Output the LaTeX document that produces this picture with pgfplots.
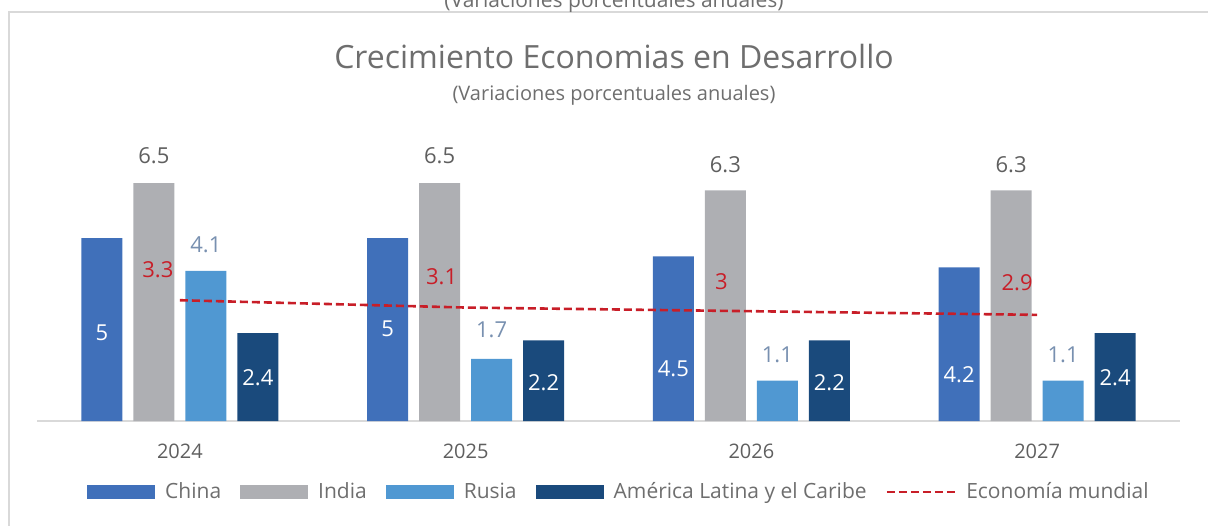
\documentclass[border=0pt]{standalone}
\usepackage{pgfplots}
\pgfplotsset{compat=1.18}
\usepackage{fontspec}
\setmainfont{Open Sans}
\definecolor{cChina}{RGB}{64,112,186}
\definecolor{cIndia}{RGB}{174,175,179}
\definecolor{cRusia}{RGB}{80,152,210}
\definecolor{cALC}{RGB}{26,74,124}
\definecolor{cRed}{RGB}{200,30,40}
\definecolor{cText}{RGB}{110,110,110}
\definecolor{cDark}{RGB}{95,95,95}
\definecolor{cRusLab}{RGB}{120,144,176}
\definecolor{cFrame}{RGB}{217,217,217}
\begin{document}
\begin{tikzpicture}[x=0.5pt,y=0.5pt]
\useasboundingbox (0,0) rectangle (1208,525);
\draw[cFrame, line width=1pt] (9,-20) rectangle (1230,513);
\node[font=\fontsize{10.5pt}{12pt}\selectfont, text=cText, anchor=base] at (614,517) {(Variaciones porcentuales anuales)};
\node[font=\fontsize{16pt}{19pt}\selectfont, text=cText] at (614,468) {Crecimiento Economias en Desarrollo};
\node[font=\fontsize{10pt}{12pt}\selectfont, text=cText] at (614,430) {(Variaciones porcentuales anuales)};
\begin{axis}[
  at={(18.5pt,52pt)}, anchor=south west,
  scale only axis, width=571.5pt, height=146.4pt,
  xmin=-0.5, xmax=3.5, ymin=0, ymax=8,
  axis x line*=bottom, axis y line=none,
  x axis line style={draw=cFrame, line width=1pt, -},
  xtick={0,1,2,3}, xticklabels={2024,2025,2026,2027},
  major tick length=0pt,
  xticklabel style={font=\fontsize{10pt}{12pt}\selectfont, text=cDark, yshift=-8pt},
  ytick=\empty,
  clip=false,
  legend columns=5,
  legend style={draw=none, fill=none, at={(0.51,-0.2425)}, anchor=center,
    font=\fontsize{10.5pt}{12pt}\selectfont, text=cText,
    /tikz/every odd column/.append style={column sep=3pt},
    /tikz/every even column/.append style={column sep=7.5pt},
    inner xsep=0pt},
]
\addplot[ybar, bar width=20.5pt, bar shift=-39pt, fill=cChina, draw=none,
  legend image code/.code={\fill[cChina] (0pt,-3.5pt) rectangle (34pt,3.5pt);}]
  coordinates {(0,5) (1,5) (2,4.5) (3,4.2)};
\addlegendentry{China}
\addplot[ybar, bar width=20.5pt, bar shift=-13pt, fill=cIndia, draw=none,
  legend image code/.code={\fill[cIndia] (0pt,-3.5pt) rectangle (34pt,3.5pt);}]
  coordinates {(0,6.5) (1,6.5) (2,6.3) (3,6.3)};
\addlegendentry{India}
\addplot[ybar, bar width=20.5pt, bar shift=13pt, fill=cRusia, draw=none,
  legend image code/.code={\fill[cRusia] (0pt,-3.5pt) rectangle (34pt,3.5pt);}]
  coordinates {(0,4.1) (1,1.7) (2,1.1) (3,1.1)};
\addlegendentry{Rusia}
\addplot[ybar, bar width=20.5pt, bar shift=39pt, fill=cALC, draw=none,
  legend image code/.code={\fill[cALC] (0pt,-3.5pt) rectangle (34pt,3.5pt);}]
  coordinates {(0,2.4) (1,2.2) (2,2.2) (3,2.4)};
\addlegendentry{América Latina y el Caribe}
\addplot[cRed, line width=1.3pt, dash pattern=on 4pt off 2pt, mark=none,
  legend image code/.code={\draw[cRed, line width=1.3pt, dash pattern=on 4pt off 2pt] (0pt,0pt) -- (34pt,0pt);}]
  coordinates {(0,3.3) (1,3.1) (2,3.0) (3,2.9)};
\addlegendentry{Economía mundial}
% labels
\addplot[draw=none, mark=none, forget plot, nodes near coords, point meta=explicit symbolic,
  nodes near coords align={center},
  every node near coord/.append style={font=\fontsize{11pt}{13pt}\selectfont, text=white, anchor=center, inner sep=0pt}]
  coordinates {(-0.273,2.40) [5] (0.727,2.51) [5] (1.727,1.42) [4.5] (2.727,1.26) [4.2]
               (0.273,1.17) [2.4] (1.273,1.04) [2.2] (2.273,1.04) [2.2] (3.273,1.17) [2.4]};
\addplot[draw=none, mark=none, forget plot, nodes near coords, point meta=explicit symbolic,
  nodes near coords align={center},
  every node near coord/.append style={font=\fontsize{11pt}{13pt}\selectfont, text=cDark, anchor=center, inner sep=0pt}]
  coordinates {(-0.091,7.24) [6.5] (0.909,7.24) [6.5] (1.909,6.99) [6.3] (2.909,6.99) [6.3]};
\addplot[draw=none, mark=none, forget plot, nodes near coords, point meta=explicit symbolic,
  nodes near coords align={center},
  every node near coord/.append style={font=\fontsize{11pt}{13pt}\selectfont, text=cRusLab, anchor=center, inner sep=0pt}]
  coordinates {(0.091,4.81) [4.1] (1.091,2.49) [1.7] (2.091,1.80) [1.1] (3.091,1.80) [1.1]};
\addplot[draw=none, mark=none, forget plot, nodes near coords, point meta=explicit symbolic,
  nodes near coords align={center},
  every node near coord/.append style={font=\fontsize{11pt}{13pt}\selectfont, text=cRed, anchor=center, inner sep=0pt}]
  coordinates {(-0.077,4.13) [3.3] (0.916,3.93) [3.1] (1.895,3.80) [3] (2.930,3.77) [2.9]};
\end{axis}
\end{tikzpicture}
\end{document}
